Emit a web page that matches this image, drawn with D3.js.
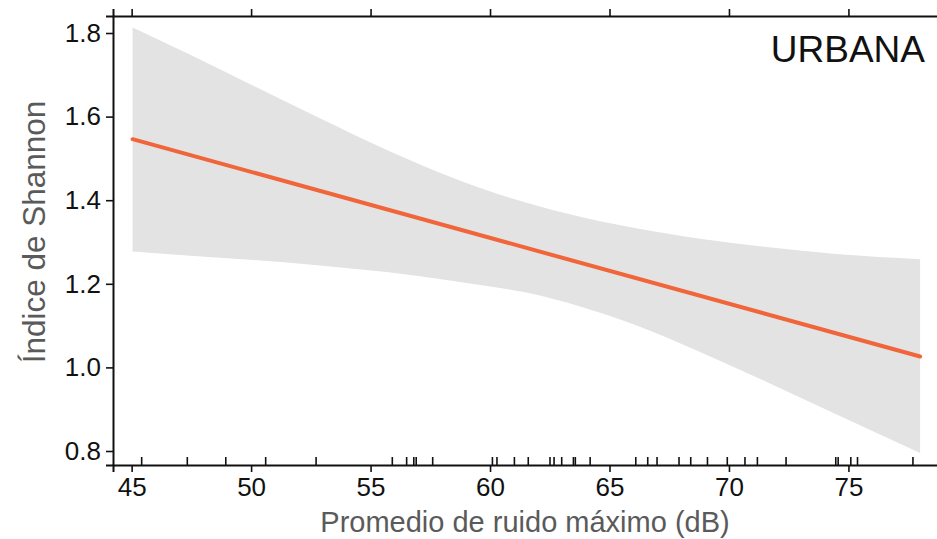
<!DOCTYPE html>
<html>
<head>
<meta charset="utf-8">
<script src="https://cdn.jsdelivr.net/npm/d3@7"></script>
<style>
  html, body { margin: 0; padding: 0; background: #fff; }
  svg { display: block; font-family: "Liberation Sans", Arial, sans-serif; }
</style>
</head>
<body>
<svg id="chart" width="937" height="539"></svg>
<script>
// Fitted linear trend of Shannon diversity against mean maximum noise
const fitX = [45.04, 78.0];
const fitY = [1.546, 1.026];

// 95% confidence band around the fit
const bandX     = [45.04, 47.30, 50.09, 52.88, 55.68, 58.46, 60.42, 62.09, 63.21, 66.00, 68.79, 71.58, 74.37, 78.00];
const bandUpper = [1.813, 1.752, 1.674, 1.596, 1.520, 1.453, 1.413, 1.385, 1.368, 1.334, 1.308, 1.288, 1.272, 1.259];
const bandLower = [1.277, 1.268, 1.257, 1.244, 1.228, 1.207, 1.190, 1.172, 1.155, 1.103, 1.037, 0.965, 0.891, 0.795];

// Observed noise levels of the sampling sites (rug)
const sitesDb = [45.42, 47.33, 48.94, 50.61, 52.72, 55.91, 56.51, 56.81, 56.91, 57.60,
                 60.10, 60.29, 61.02, 61.60, 62.51, 62.68, 63.00, 63.49, 63.57, 64.19,
                 66.10, 66.60, 66.99, 67.91, 68.40, 69.10, 69.93, 70.67, 71.19, 72.39,
                 74.47, 74.57, 75.10, 75.38, 77.70];

const xTicks = [45, 50, 55, 60, 65, 70, 75];
const yTicks = [0.8, 1.0, 1.2, 1.4, 1.6, 1.8];

const panelLabel = "URBANA";
const xTitle = "Promedio de ruido máximo (dB)";
const yTitle = "Índice de Shannon";

const svg = d3.select("#chart");
const plotLeft = 113, plotRight = 944, plotTop = 16, plotBottom = 465;

const x = d3.scaleLinear().domain([44.22, 79.0]).range([plotLeft, plotRight]);
const y = d3.scaleLinear().domain([0.7665, 1.8407]).range([plotBottom, plotTop]);

// Confidence ribbon
const band = bandX.map((v, i) => ({ x: v, lo: bandLower[i], hi: bandUpper[i] }));
svg.append("path")
  .datum(band)
  .attr("fill", "#e3e3e3")
  .attr("d", d3.area()
    .curve(d3.curveMonotoneX)
    .x(d => x(d.x))
    .y0(d => y(d.lo))
    .y1(d => y(d.hi)));

// Regression line
svg.append("path")
  .datum(fitX.map((v, i) => ({ x: v, y: fitY[i] })))
  .attr("fill", "none")
  .attr("stroke", "#f0653a")
  .attr("stroke-width", 4)
  .attr("stroke-linecap", "round")
  .attr("d", d3.line().x(d => x(d.x)).y(d => y(d.y)));

// Rug marks along the bottom axis
svg.append("g")
  .selectAll("line")
  .data(sitesDb)
  .join("line")
  .attr("x1", d => x(d)).attr("x2", d => x(d))
  .attr("y1", plotBottom).attr("y2", plotBottom - 8)
  .attr("stroke", "#111")
  .attr("stroke-width", 1.6);

// Axes
const tickFont = 26;
const xAxis = svg.append("g")
  .attr("transform", `translate(0,${plotBottom})`)
  .call(d3.axisBottom(x).tickValues(xTicks).tickFormat(d3.format("d")).tickSizeOuter(0).tickSize(7).tickPadding(6));
const xTop = svg.append("g")
  .attr("transform", `translate(0,${plotTop})`)
  .call(d3.axisTop(x).tickValues(xTicks).tickFormat("").tickSizeOuter(0).tickSize(7));
const yAxis = svg.append("g")
  .attr("transform", `translate(${plotLeft},0)`)
  .call(d3.axisLeft(y).tickValues(yTicks).tickFormat(d3.format(".1f")).tickSizeOuter(0).tickSize(7).tickPadding(5));

[xAxis, xTop, yAxis].forEach(g => {
  g.select(".domain").attr("stroke", "#111").attr("stroke-width", 2);
  g.selectAll(".tick line").attr("stroke", "#111").attr("stroke-width", 1.6);
  g.selectAll(".tick text")
    .attr("fill", "#111")
    .style("font-size", tickFont + "px")
    .style("font-family", "'Liberation Sans', Arial, sans-serif");
});

// Panel label
svg.append("text")
  .attr("x", 925).attr("y", 62)
  .attr("text-anchor", "end")
  .attr("fill", "#111")
  .style("font-size", "37px")
  .text(panelLabel);

// Axis titles
svg.append("text")
  .attr("x", 525).attr("y", 532)
  .attr("text-anchor", "middle")
  .attr("fill", "#5a5a5a")
  .style("font-size", "29px")
  .text(xTitle);

svg.append("text")
  .attr("transform", `translate(45,232) rotate(-90)`)
  .attr("text-anchor", "middle")
  .attr("fill", "#5a5a5a")
  .style("font-size", "31.5px")
  .text(yTitle);
</script>
</body>
</html>
